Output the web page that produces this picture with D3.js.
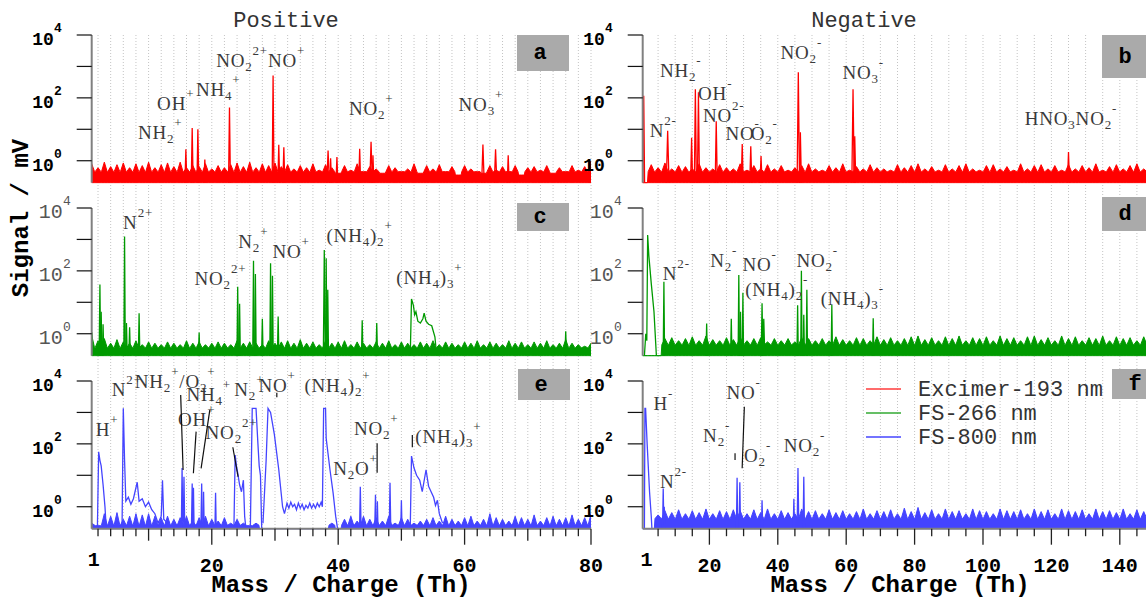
<!DOCTYPE html>
<html>
<head>
<meta charset="utf-8">
<script src="https://cdn.jsdelivr.net/npm/d3@7"></script>
<style>
  body { margin: 0; background: #fff; }
  svg { display: block; }
</style>
</head>
<body>
<script>
// ---------------- data ----------------

// noise spikes: one value per Th for positive (m/z 1..80), per 2 Th for negative (m/z 1,3,..,149)
var noiseA = [0.8,0.6,0.9,0.65,0.75,0.85,0.6,0.8,0.7,0.9, 0.6,0.75,0.85,0.65,0.9,0.6,0.7,0.65,0.8,0.55,
              0.7,0.6,0.75,0.85,0.65,0.9,0.6,0.8,0.7,0.85, 0.65,0.75,0.55,0.7,0.6,0.8,0.5,0.75,0.6,0.4,
              0.7,0.5,0.8,0.45,0.65,0.55,0.4,0.7,0.6,0.45, 0.55,0.8,0.4,0.7,0.55,0.75,0.45,0.65,0.35,0.7,
              0.55,0.45,0.4,0.7,0.5,0.65,0.45,0.7,0.35,0.6, 0.65,0.5,0.7,0.4,0.6,0.45,0.7,0.5,0.65,1.0];
var noiseC = [0.9,0.6,0.7,0.5,0.65,0.55,0.5,0.6,0.45,0.55, 0.5,0.45,0.55,0.5,0.45,0.6,0.5,0.55,0.45,0.5,
              0.55,0.5,0.45,0.6,0.5,0.55,0.5,0.45,0.6,0.5, 0.55,0.6,0.5,0.65,0.5,0.55,0.45,0.6,0.5,0.55,
              0.6,0.45,0.55,0.5,0.45,0.55,0.5,0.6,0.45,0.55, 0.5,0.45,0.55,0.5,0.6,0.45,0.55,0.5,0.45,0.55,
              0.5,0.6,0.45,0.55,0.5,0.45,0.6,0.5,0.55,0.45, 0.55,0.5,0.6,0.45,0.5,0.65,0.5,0.45,0.4,0.5];
var noiseE = [0.3,0.25,0.6,0.5,0.65,0.4,0.5,0.6,0.55,0.6, 0.5,0.45,0.5,0.4,0.45,0.5,0.35,0.45,0.5,0.4,
              0.35,0.45,0.3,0.4,0.3,0.25,0.3,0.2,0.2,0.2, 0.2,0.2,0.2,0.2,0.2,0.2,0.2,0.2,0.3,0.2,
              0.4,0.5,0.35,0.5,0.4,0.45,0.35,0.5,0.3,0.45, 0.4,0.3,0.35,0.4,0.45,0.35,0.5,0.4,0.35,0.45,
              0.5,0.35,0.4,0.6,0.45,0.4,0.35,0.5,0.45,0.4, 0.55,0.35,0.45,0.5,0.4,0.45,0.55,0.4,0.45,0.6];
var noiseB = [0.2,0.75,0.6,0.85,0.55,0.7,0.65,0.55,0.8,0.6, 0.55,0.75,0.6,0.55,0.8,0.5,0.7,0.55,0.75,0.55,
              0.7,0.5,0.6,0.7,0.8,0.55,0.5,0.7,0.6,0.8, 0.5,0.65,0.55,0.75,0.6,0.55,0.5,0.75,0.6,0.7,
              0.8,0.55,0.65,0.5,0.75,0.55,0.7,0.8,0.55,0.5, 0.7,0.75,0.55,0.65,0.5,0.8,0.55,0.7,0.75,0.55,
              0.7,0.5,0.75,0.55,0.7,0.6,0.8,0.5,0.65,0.75, 0.55,0.7,0.8,0.55,0.9];
var noiseD = [0.2,0.2,0.2,0.7,0.75,0.6,0.7,0.8,0.6,0.85, 0.65,0.6,0.75,0.65,0.8,0.6,0.7,0.75,0.55,0.7,
              0.6,0.7,0.55,0.75,0.7,0.6,0.7,0.6,0.8,0.65, 0.6,0.75,0.7,0.6,0.8,0.65,0.75,0.6,0.7,0.8,
              0.85,0.65,0.75,0.6,0.8,0.7,0.85,0.6,0.75,0.7, 0.8,0.6,0.85,0.7,0.75,0.6,0.8,0.85,0.65,0.75,
              0.6,0.85,0.7,0.8,0.6,0.75,0.7,0.85,0.6,0.8, 0.7,0.75,0.6,0.8,0.7];
var noiseF = [0.2,0.2,0.55,0.75,0.65,0.8,0.6,0.75,0.65,0.85, 0.6,0.75,0.7,0.8,0.75,0.6,0.8,0.65,0.85,0.6,
              0.75,0.65,0.6,0.85,0.7,0.75,0.6,0.8,0.65,0.75, 0.6,0.7,0.85,0.6,0.75,0.7,0.8,0.6,0.9,0.7,
              0.95,0.65,0.8,0.6,0.85,0.7,0.75,0.6,0.85,0.75, 0.7,0.6,0.85,0.75,0.7,0.8,0.6,0.85,0.7,0.8,
              0.6,0.85,0.75,0.7,0.8,0.6,0.85,0.7,0.75,0.65, 0.85,0.6,0.8,0.7,0.75];
// level of the solid part of the noise band, per panel a..f
var noiseFloor = {a: 0.45, b: 0.45, c: 0.36, d: 0.45, e: 0.26, f: 0.42};

// narrow peaks: [m/z, signal (mV), half width (Th)]
var peaksA = [[15.9,2.3,0.15],[16.9,11,0.15],[17.8,10,0.15],[18.9,1.1,0.15],[22.8,49,0.15],
              [29.7,510,0.15],[30.6,3.2,0.15],[31.4,2.7,0.15],[38.4,2.1,0.2],[38.8,1.2,0.15],
              [39.8,1.3,0.15],[43.4,2.4,0.15],[45.2,4.0,0.2],[45.5,1.5,0.15],[62.9,3.3,0.2],
              [64.9,2.3,0.2],[66.9,1.5,0.15],[79.7,1.0,0.15]];
var peaksB = [[0.8,117,0.25],[7.8,8.9,0.4],[14.8,5.4,0.3],[15.9,187,0.3],[16.8,150,0.3],
              [22.0,18,0.3],[29.6,3.4,0.3],[32.1,2.9,0.3],[35.1,1.4,0.3],[46.0,650,0.35],
              [46.6,8,0.3],[62.0,187,0.35],[62.5,6,0.3],[125,1.9,0.3]];
var peaksC = [[1.05,1.1,0.1],[2.3,37,0.12],[2.5,5,0.12],[2.8,2,0.12],[6.2,1230,0.12],
              [6.5,2.2,0.12],[7.0,1.6,0.12],[8.5,4.5,0.12],[18,1.1,0.12],[24.1,31,0.12],
              [24.4,9,0.12],[26.6,210,0.12],[26.9,80,0.12],[28.0,3,0.12],[29.3,175,0.12],
              [29.6,70,0.12],[30.5,3.5,0.12],[37.8,465,0.15],[38.1,250,0.12],[38.35,25,0.12],
              [43.8,2.7,0.12],[46.1,2.2,0.12],[76,1.2,0.12]];
var peaksD = [[6.7,45,0.2],[19.2,2.1,0.2],[26.4,3,0.2],[28.6,74,0.2],[29.1,5,0.2],[29.8,20,0.2],
              [35.4,9.3,0.25],[35.9,3,0.3],[45.8,8,0.2],[46.9,100,0.2],[47.6,4,0.2],[48.5,25,0.2],
              [55.8,8.2,0.2],[67.9,3.1,0.2]];
var peaksE = [[15.3,17,0.12],[15.6,9,0.12],[16.9,5.5,0.12],[17.1,4,0.1],[18.4,5.5,0.12],
              [18.7,3,0.1],[20.6,2.8,0.1],[43.5,4.3,0.12],[45.9,2.4,0.12],[46.2,1.5,0.1],
              [48.2,5.8,0.12],[50,1.6,0.1]];
var peaksF = [[6.5,3.8,0.2],[6.8,1.0,0.2],[28.1,8.3,0.2],[28.9,6,0.2],[35.4,1.6,0.2],
              [44.7,1.8,0.2],[45.9,17,0.25],[47.6,9,0.2]];

// broad peak profiles: [[m/z, signal], ...]
var shapesC = [[[51.4,0.2],[51.6,12.7],[51.9,8],[52.1,4],[52.3,5],[52.6,2.5],[53.0,2.2],[53.4,3],
                [53.6,4.5],[53.9,2.5],[54.3,2.0],[54.8,1.8],[55.3,0.8],[55.6,0.2]]];
var shapesD = [[[1.0,0.2],[1.4,1.0],[1.7,0.6],[1.95,1380],[2.3,300],[3.0,40],[3.8,5],[4.5,0.2]]];
var shapesE = [
  [[1.9,0.2],[2.1,56],[2.3,30],[2.5,20],[2.8,5],[3.1,1],[3.3,0.2]],
  [[5.8,0.2],[6.0,1350],[6.2,30],[6.4,1.5],[6.8,2],[7.2,1.2],[7.6,1.8],[8.2,6],[8.5,1.5],[9,1.8],
   [9.5,1.0],[10,1.4],[10.5,0.8],[11,0.6],[11.5,0.3],[12,0.5],[12.2,7],[12.4,0.4],[13,0.3]],
  [[23.5,0.2],[23.7,44],[23.9,20],[24.1,12],[24.4,5],[24.7,3],[25.0,7],[25.2,0.5],[25.4,0.2]],
  [[26.1,0.2],[26.4,1350],[27.0,1350],[27.3,100],[27.5,20],[27.7,10],[27.9,0.2]],
  [[28.1,0.3],[28.6,30],[28.9,1350],[29.3,1000],[29.9,200],[30.6,15],[31.2,1],[31.5,0.6],
   [31.9,1.3],[32.2,0.9],[32.5,1.4],[32.8,1.0],[33.1,1.2],[33.4,0.8],[33.7,1.3],[34,0.9],
   [34.3,1.2],[34.6,0.8],[34.9,1.1],[35.2,0.9],[35.5,1.3],[35.8,0.9],[36.1,1.2],[36.4,0.9],
   [36.7,1.3],[37.0,1.0],[37.3,1.4],[37.5,1.0],[37.7,1350],[38.0,1350],[38.1,150],[38.7,15],
   [39.2,2.7],[39.6,0.5],[39.9,0.2]],
  [[51.4,0.2],[51.6,41],[52.0,17],[52.4,10],[52.9,7],[53.3,3],[53.9,15],[54.3,4.5],[54.7,3],
   [55.1,2],[55.4,1.1],[55.7,1.6],[56.0,0.6],[56.5,0.3]]
];
var shapesF = [[[1.0,0.2],[1.15,1350],[1.35,1350],[1.8,100],[2.5,3],[3.0,0.5],[3.2,0.2]]];

// peak labels: [m/z, signal, text]  (_ subscript, ^ superscript)
var labelsA = [[8.31,4.8,"NH_2^+"],[11.35,41,"OH^+"],[17.5,115,"NH_4^+"],[20.7,990,"NO_2^{2+}NO^+"],
               [41.7,29,"NO_2^+"],[59.05,38,"NO_3^+"]];
var labelsB = [[2.55,5.8,"N^{2-}"],[5.56,455,"NH_2^-"],[16.7,86,"OH^-"],[18.1,17.5,"NO^{2-}"],
               [24.7,4.6,"NO^-"],[32.1,4.6,"O_2^-"],[40.8,1700,"NO_2^-"],[58.9,400,"NO_3^-"],
               [112.2,13.7,"HNO_3NO_2^-"]];
var labelsC = [[5.97,2100,"N^{2+}"],[17.27,35.6,"NO_2^{2+}"],[24.2,525,"N_2^+"],[29.6,250,"NO^+"],
               [38.15,850,"(NH_4)_2^+"],[49.2,37.5,"(NH_4)_3^+"]];
var labelsD = [[6.38,51,"N^{2-}"],[20.26,130,"N_2^-"],[29.7,101,"NO^-"],[45.45,130,"NO_2^-"],
               [30.45,15.8,"(NH_4)_2^-"],[52.56,8.2,"(NH_4)_3^-"]];
var labelsE = [[1.65,178,"H^+"],[4.18,3370,"N^{2+}"],[7.82,5900,"NH_2^+/O_2^+"],[16.0,2330,"NH_4^+"],
               [14.67,380,"OH^+"],[19.02,143,"NO_2^{2+}"],[23.56,3440,"N_2^+"],[27.38,4600,"NO^+"],
               [34.65,4600,"(NH_4)_2^+"],[39.2,10.2,"N_2O^+"],[42.5,192,"NO_2^+"],[52.2,105,"(NH_4)_3^+"]];
var labelsF = [[3.63,1200,"H^-"],[5.56,3.9,"N^{2-}"],[24.98,2630,"NO^-"],[18.16,118,"N_2^-"],
               [30.13,27,"O_2^-"],[41.73,56.5,"NO_2^-"]];

// leader lines: [m/z1, signal1, m/z2, signal2]
var leadersE = [[15.08,3600,15.46,14.7],[17.52,245,17.09,11.6],[19.69,1200,18.31,16.7],
                [23.33,78,24.16,9.0],[30.29,4200,30.29,3040],[46.16,105,46.16,12.1],[51.73,192,51.73,78]];
var leadersF = [[30.22,1520,29.58,16.7],[27.5,50,27.5,30.6]];

var legendNames = ["Excimer-193 nm", "FS-266 nm", "FS-800 nm"];
var legendColors = ["#ff3b3b", "#33aa33", "#4646ff"];
var posTickLabels = [1, 20, 40, 60, 80];
var negTickLabels = [1, 20, 40, 60, 80, 100, 120, 140];

// ---------------- layout ----------------
var W = 1146, H = 598;
var red = "#ff0000", green = "#009a00", blue = "#4444ff";
var mono = "'Liberation Mono', 'Courier New', monospace";
var serif = "'Liberation Serif', 'Times New Roman', serif";

var svg = d3.select("body").append("svg")
    .attr("width", W).attr("height", H)
    .style("font-family", mono);

var xCol = [
  d3.scaleLinear().domain([1, 80]).range([91.7, 591]),
  d3.scaleLinear().domain([0.5, 150]).range([642.7, 1154])
];
var rowTop = [35, 208, 381];
function yRow(r) {
  return d3.scaleLog().domain([0.2, 1e4]).range([rowTop[r] + 147.7, rowTop[r]]);
}
var bottomY = rowTop[2] + 147.7;

// vertical dotted grid, full height of each column
var gridVals = [d3.range(2, 81, 2), d3.range(5, 151, 5)];
[0, 1].forEach(function(c) {
  svg.append("g").selectAll("line")
    .data(gridVals[c]).enter().append("line")
      .attr("x1", function(d) { return xCol[c](d); })
      .attr("x2", function(d) { return xCol[c](d); })
      .attr("y1", rowTop[0]).attr("y2", bottomY)
      .attr("stroke", "#c4c4c4").attr("stroke-width", 1)
      .attr("stroke-dasharray", "1,2");
});

var panels = [
  {k: "a", c: 0, r: 0, color: red,   noise: noiseA, step: 1, peaks: peaksA, shapes: [],      labels: labelsA, leaders: [],       bold: true,  box: [517, 35, 52, 36]},
  {k: "b", c: 1, r: 0, color: red,   noise: noiseB, step: 2, peaks: peaksB, shapes: [],      labels: labelsB, leaders: [],       bold: true,  box: [1102, 35, 50, 43]},
  {k: "c", c: 0, r: 1, color: green, noise: noiseC, step: 1, peaks: peaksC, shapes: shapesC, labels: labelsC, leaders: [],       bold: false, box: [517, 203, 52, 28]},
  {k: "d", c: 1, r: 1, color: green, noise: noiseD, step: 2, peaks: peaksD, shapes: shapesD, labels: labelsD, leaders: [],       bold: false, box: [1102, 197, 50, 34]},
  {k: "e", c: 0, r: 2, color: blue,  noise: noiseE, step: 1, peaks: peaksE, shapes: shapesE, labels: labelsE, leaders: leadersE, bold: true,  box: [518, 369, 52, 31]},
  {k: "f", c: 1, r: 2, color: blue,  noise: noiseF, step: 2, peaks: peaksF, shapes: shapesF, labels: labelsF, leaders: leadersF, bold: true,  box: [1112, 369, 40, 30]}
];

// split "NO_2^{2+}" into plain / sub / sup runs
function parts(s) {
  var out = [], cur = "", i = 0;
  while (i < s.length) {
    var ch = s[i];
    if (ch === "_" || ch === "^") {
      if (cur) { out.push({t: cur, k: 0}); cur = ""; }
      var g;
      if (s[i + 1] === "{") { var j = s.indexOf("}", i); g = s.slice(i + 2, j); i = j + 1; }
      else { g = s[i + 1]; i += 2; }
      out.push({t: g, k: ch === "_" ? 1 : -1});
    } else { cur += ch; i++; }
  }
  if (cur) out.push({t: cur, k: 0});
  return out;
}

function richText(g, x, y, s) {
  var t = g.append("text").attr("x", x).attr("y", y)
      .attr("font-family", serif).attr("font-size", 19)
      .attr("fill", "#3a3a3a").attr("letter-spacing", 0.8);
  var off = 0;
  parts(s).forEach(function(p) {
    var target = p.k === 1 ? 4 : (p.k === -1 ? -12 : 0);
    t.append("tspan").attr("dy", target - off)
      .attr("font-size", p.k ? 13 : 19)
      .text(p.t);
    off = target;
  });
}

panels.forEach(function(p, pi) {
  var x = xCol[p.c], y = yRow(p.r);
  var g = svg.append("g");
  var x0 = x.range()[0], x1 = x.range()[1];
  var top = rowTop[p.r], base = top + 147.7;

  var clipId = "clip" + pi;
  svg.append("clipPath").attr("id", clipId).append("rect")
    .attr("x", x0).attr("y", top - 2).attr("width", x1 - x0).attr("height", base - top + 3);
  var plot = g.append("g").attr("clip-path", "url(#" + clipId + ")");

  var clampY = function(v) { return y(Math.max(v, 0.2)); };

  // noise: each reading is a spike rising from the solid floor of the band
  var fl = noiseFloor[p.k], hw = p.step * 0.45;
  var noisePts = [];
  p.noise.forEach(function(v, i) {
    var m = 1 + i * p.step, f = Math.min(fl, v);
    noisePts.push([m - hw, f], [m, v], [m + hw, f]);
  });
  plot.append("path").datum(noisePts)
    .attr("d", d3.area().x(function(d) { return x(d[0]); }).y0(base).y1(function(d) { return clampY(d[1]); }))
    .attr("fill", p.color).attr("stroke", p.color).attr("stroke-width", 1);

  var line = d3.line().x(function(d) { return x(d[0]); }).y(function(d) { return clampY(d[1]); });

  // narrow peaks
  plot.selectAll("path.pk").data(p.peaks).enter().append("path")
    .attr("class", "pk")
    .attr("d", function(d) { return line([[d[0] - d[2], 0.2], [d[0], d[1]], [d[0] + d[2], 0.2]]); })
    .attr("fill", "none").attr("stroke", p.color).attr("stroke-width", 1.3);

  // broad profiles
  plot.selectAll("path.sh").data(p.shapes).enter().append("path")
    .attr("class", "sh")
    .attr("d", line)
    .attr("fill", "none").attr("stroke", p.color).attr("stroke-width", 1.3);

  // y axis
  g.append("line").attr("x1", x0).attr("x2", x0).attr("y1", top).attr("y2", base)
    .attr("stroke", "#808080").attr("stroke-width", 2);
  var yt = [1e4, 1e3, 1e2, 1e1, 1];
  g.selectAll("line.yt").data(yt).enter().append("line")
    .attr("class", "yt")
    .attr("x1", x0 - 15).attr("x2", x0)
    .attr("y1", function(d) { return y(d); }).attr("y2", function(d) { return y(d); })
    .attr("stroke", "#111").attr("stroke-width", 1.2);
  var labX = p.bold ? x0 - 30 : x0 - 21;
  [1e4, 1e2, 1].forEach(function(v) {
    var t = g.append("text")
      .attr("x", labX).attr("y", y(v) + 10)
      .attr("text-anchor", "end")
      .attr("font-size", p.bold ? 18 : 20)
      .attr("font-weight", p.bold ? "bold" : "normal")
      .attr("fill", p.bold ? "#000" : "#555")
      .text("10");
    t.append("tspan").attr("dy", -13).attr("font-size", 13)
      .text(Math.round(Math.log10(v)));
  });

  // annotations
  p.labels.forEach(function(d) { richText(g, x(d[0]), y(d[1]), d[2]); });
  g.selectAll("line.ld").data(p.leaders).enter().append("line")
    .attr("class", "ld")
    .attr("x1", function(d) { return x(d[0]); }).attr("y1", function(d) { return y(d[1]); })
    .attr("x2", function(d) { return x(d[2]); }).attr("y2", function(d) { return y(d[3]); })
    .attr("stroke", "#111").attr("stroke-width", 1.2);

  // panel letter
  g.append("rect").attr("x", p.box[0]).attr("y", p.box[1])
    .attr("width", p.box[2]).attr("height", p.box[3]).attr("fill", "#aaaaaa");
  g.append("text").attr("x", p.box[0] + 23).attr("y", p.box[1] + p.box[3] / 2 + 6)
    .attr("text-anchor", "middle").attr("font-size", 22).attr("font-weight", "bold")
    .attr("fill", "#000").text(p.k);
});

// bottom x axes
var tickSets = [
  {minor: d3.range(2, 81, 2), med: [10, 30, 50, 70], major: [20, 40, 60, 80], labels: posTickLabels},
  {minor: d3.range(5, 151, 5), med: [], major: [20, 40, 60, 80, 100, 120, 140], labels: negTickLabels}
];
[0, 1].forEach(function(c) {
  var x = xCol[c], ts = tickSets[c];
  var g = svg.append("g");
  g.append("line").attr("x1", x.range()[0]).attr("x2", Math.min(x.range()[1], W))
    .attr("y1", bottomY).attr("y2", bottomY)
    .attr("stroke", "#808080").attr("stroke-width", 2);
  var len = function(v) { return ts.major.indexOf(v) >= 0 ? 16 : (ts.med.indexOf(v) >= 0 ? 12 : 7.5); };
  g.selectAll("line.xt").data(ts.minor).enter().append("line")
    .attr("class", "xt")
    .attr("x1", function(d) { return x(d); }).attr("x2", function(d) { return x(d); })
    .attr("y1", bottomY).attr("y2", function(d) { return bottomY + len(d); })
    .attr("stroke", "#222").attr("stroke-width", 1.3);
  g.selectAll("text").data(ts.labels).enter().append("text")
    .attr("x", function(d) { return x(d) + (d === 1 ? 2 : 0); })
    .attr("y", function(d) { return d === 1 ? 566 : 572; })
    .attr("text-anchor", "middle").attr("font-size", 20).attr("font-weight", "bold")
    .text(function(d) { return d; });
});

// axis titles
svg.append("text").attr("x", 341).attr("y", 592).attr("text-anchor", "middle")
  .attr("font-size", 24).attr("font-weight", "bold").text("Mass / Charge (Th)");
svg.append("text").attr("x", 900).attr("y", 592).attr("text-anchor", "middle")
  .attr("font-size", 24).attr("font-weight", "bold").text("Mass / Charge (Th)");
svg.append("text").attr("transform", "translate(28,218) rotate(-90)")
  .attr("text-anchor", "middle").attr("font-size", 24).attr("font-weight", "bold")
  .text("Signal / mV");

// column titles
svg.append("text").attr("x", 286).attr("y", 27).attr("text-anchor", "middle")
  .attr("font-size", 22).attr("fill", "#333").text("Positive");
svg.append("text").attr("x", 864).attr("y", 27).attr("text-anchor", "middle")
  .attr("font-size", 22).attr("fill", "#333").text("Negative");

// legend
var leg = svg.append("g").attr("transform", "translate(866,389)");
legendNames.forEach(function(name, i) {
  leg.append("line").attr("x1", 0).attr("x2", 35).attr("y1", i * 24).attr("y2", i * 24)
    .attr("stroke", legendColors[i]).attr("stroke-width", 1.5);
  leg.append("text").attr("x", 52).attr("y", i * 24 + 7)
    .attr("font-size", 22).attr("fill", "#333").text(name);
});
</script>
</body>
</html>
